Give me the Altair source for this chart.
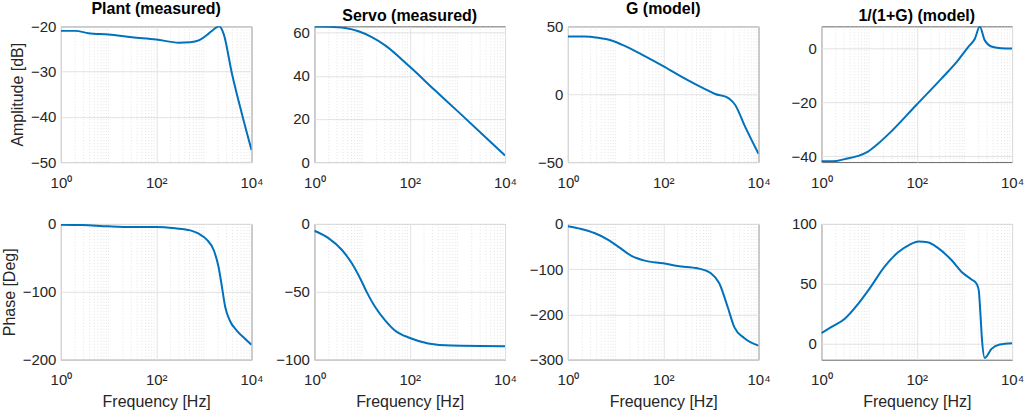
import altair as alt
import pandas as pd

# ---------------- data ----------------
plant_amp_f = [1, 2, 3.8, 10, 31, 100, 300, 520, 780, 1260, 1600, 2100, 2590, 3880, 6270, 10000]
plant_amp_v = [-21.0, -21.0, -21.5, -21.8, -22.4, -22.9, -23.6, -23.5, -23.1, -21.6, -20.7, -20.0, -21.6, -30.4, -39.3, -47.3]

servo_amp_f = [1, 1.97, 4.4, 8.4, 16, 30.5, 101, 339, 1050, 3250, 10000]
servo_amp_v = [62.9, 62.8, 62.2, 60.7, 58.0, 54.2, 44.2, 33.3, 23.3, 13.2, 3.1]

g_amp_f = [1, 2.24, 4.3, 8.2, 15.6, 35, 100, 286, 755, 1230, 2150, 2520, 3240, 5250, 10000]
g_amp_v = [42.6, 42.6, 41.6, 39.6, 35.6, 29.4, 20.7, 11.4, 3.7, 0.2, -2.2, -3.7, -7.9, -24.1, -43.9]

s_amp_f = [1, 1.76, 3.1, 5.9, 9.5, 15.4, 29, 98, 330, 735, 1200, 1660, 2100, 2680, 4000, 6000, 10000]
s_amp_v = [-41.8, -41.8, -41.0, -39.8, -38.2, -35.3, -30.8, -20.9, -11.1, -4.3, 0.6, 3.7, 8.2, 3.1, 0.6, 0.2, 0.1]

plant_ph_f = [1, 2.8, 10, 31, 100, 250, 520, 780, 1150, 1600, 2030, 2400, 2800, 3540, 4900, 7300, 10000]
plant_ph_v = [-1, -1.5, -3.5, -4.5, -4.5, -6.4, -9.4, -14.4, -23, -38, -63, -93, -122, -143, -157, -169, -178]

servo_ph_f = [1, 1.97, 3.75, 6.1, 9.1, 12.5, 18.7, 30.5, 49, 101, 245, 754, 10000]
servo_ph_v = [-5, -10.4, -19, -29, -40, -50, -61, -71, -78.5, -84, -88, -89.6, -90]

g_ph_f = [1, 1.9, 3.6, 7, 11.3, 21.6, 41, 100, 201, 528, 1000, 1500, 2245, 3100, 5000, 10000]
g_ph_v = [-5, -11, -20, -35, -50, -70.5, -81, -87, -93, -98, -109, -131, -183, -228, -252, -269]

s_ph_f = [1, 1.6, 3.1, 5.9, 10.3, 21, 40, 70, 110, 170, 282, 535, 942, 1410, 1787, 2000, 2170, 2350, 2680, 3710, 5500, 10000]
s_ph_v = [8.5, 13.5, 20.6, 33, 46, 64, 76, 82.5, 85.2, 84.6, 79.7, 69.8, 58.6, 53.5, 50.1, 44.5, 24.8, 2.3, -12.3, -4.7, -1.1, 0.0]

minor_f = [2, 3, 4, 5, 6, 7, 8, 9, 10, 20, 30, 40, 50, 60, 70, 80, 90,
           200, 300, 400, 500, 600, 700, 800, 900, 1000, 2000, 3000, 4000, 5000, 6000, 7000, 8000, 9000]

titles = ["Plant (measured)", "Servo (measured)", "G (model)", "1/(1+G) (model)"]

W, H = 191, 136
BLUE = "#0072BD"
FONT = "Liberation Sans"

x_label_expr = "datum.value == 1 ? '10⁰' : (datum.value == 100 ? '10²' : '10⁴')"


def panel(fs, vs, ydom, yticks, title=None, ytitle=None, xtitle=None):
    df = pd.DataFrame({"f": fs, "v": vs})
    mdf = pd.DataFrame({"f": minor_f})
    xaxis = alt.Axis(values=[1, 100, 10000], labelExpr=x_label_expr, grid=True,
                     title=xtitle if xtitle else None, labelPadding=13, titlePadding=6,
                     labelFlush=False)
    xscale = alt.Scale(type="log", domain=[1, 10000])
    rules = alt.Chart(mdf).mark_rule(color="#d2d2d2", strokeWidth=0.6, strokeDash=[1, 2]).encode(
        x=alt.X("f:Q", scale=xscale, axis=xaxis)
    )
    line = alt.Chart(df).mark_line(color=BLUE, strokeWidth=2, interpolate="monotone", clip=True).encode(
        x=alt.X("f:Q", scale=xscale, axis=xaxis),
        y=alt.Y("v:Q", scale=alt.Scale(domain=ydom, nice=False, zero=False),
                axis=alt.Axis(values=yticks, grid=True, title=ytitle if ytitle else None,
                              labelPadding=5, titlePadding=5)),
    )
    props = dict(width=W, height=H)
    if title:
        props["title"] = alt.Title(title)
    return alt.layer(rules, line).properties(**props)


panels = [
    panel(plant_amp_f, plant_amp_v, [-50, -20], [-50, -40, -30, -20], titles[0], "Amplitude [dB]"),
    panel(servo_amp_f, servo_amp_v, [0, 63], [0, 20, 40, 60], titles[1]),
    panel(g_amp_f, g_amp_v, [-50, 50], [-50, 0, 50], titles[2]),
    panel(s_amp_f, s_amp_v, [-42.1, 8.3], [-40, -20, 0], titles[3]),
    panel(plant_ph_f, plant_ph_v, [-200, 0], [-200, -100, 0], None, "Phase [Deg]", "Frequency [Hz]"),
    panel(servo_ph_f, servo_ph_v, [-100, 0], [-100, -50, 0], None, None, "Frequency [Hz]"),
    panel(g_ph_f, g_ph_v, [-300, 0], [-300, -200, -100, 0], None, None, "Frequency [Hz]"),
    panel(s_ph_f, s_ph_v, [-13.8, 100], [0, 50, 100], None, None, "Frequency [Hz]"),
]

chart = alt.concat(*panels, columns=4, spacing={"row": 62, "column": 63}, bounds="flush").properties(
    padding={"left": 0, "top": 0, "right": 5, "bottom": 5},
    background="white",
).configure_view(
    stroke="#666666", strokeWidth=1
).configure_axis(
    labelFont=FONT, labelFontSize=15, labelColor="#262626",
    titleFont=FONT, titleFontSize=16, titleFontWeight="normal", titleColor="#262626",
    gridColor="#e2e2e2", gridWidth=1, domain=False, ticks=False,
).configure_title(
    font=FONT, fontSize=16, fontWeight="bold", color="#000000", anchor="middle", offset=2
)

chart.save("out.html", embed_options={"renderer": "svg", "actions": False})
